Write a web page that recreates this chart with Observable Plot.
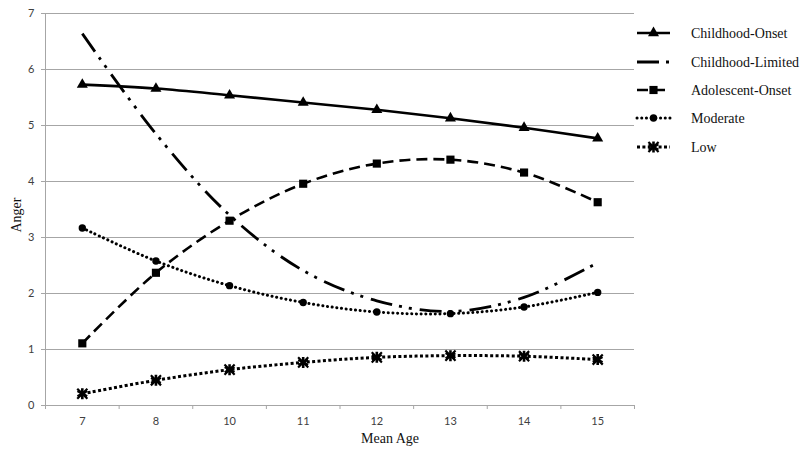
<!DOCTYPE html>
<html><head><meta charset="utf-8">
<script src="https://cdn.jsdelivr.net/npm/d3@7"></script>
<script src="https://cdn.jsdelivr.net/npm/@observablehq/plot@0.6"></script>
<style>
body{margin:0;background:#fff;}
#chart{position:relative;width:800px;height:451px;}
#chart svg{display:block;}
</style>
</head><body><div id="chart"></div>
<script>
const ages = ["7","8","10","11","12","13","14","15"];
const yTicks = [0,1,2,3,4,5,6,7];
const seriesNames = ["Childhood-Onset","Childhood-Limited","Adolescent-Onset","Moderate","Low"];
const childhoodOnset   = [5.73,5.66,5.54,5.41,5.28,5.13,4.96,4.77];
const childhoodLimited = [6.64,4.85,3.40,2.41,1.87,1.68,1.93,2.55];
const adolescentOnset  = [1.11,2.37,3.30,3.96,4.32,4.39,4.16,3.63];
const moderate         = [3.17,2.58,2.14,1.84,1.67,1.64,1.76,2.02];
const low              = [0.21,0.45,0.64,0.77,0.86,0.89,0.88,0.82];
const xTitle = "Mean Age";
const yTitle = "Anger";

const seriesVals = [childhoodOnset, childhoodLimited, adolescentOnset, moderate, low];
const styles = {
  "Childhood-Onset":   {dash:null, w:2.6, cap:"butt", symbol:"triangle", r:4.1},
  "Childhood-Limited": {dash:"22,7,3,7,3,8", w:2.8, cap:"butt", symbol:null},
  "Adolescent-Onset":  {dash:"11,6", w:2.6, cap:"butt", symbol:"square", r:4.6},
  "Moderate":          {dash:"0.1,4.6", w:3, cap:"round", symbol:"circle", r:3.7},
  "Low":               {dash:"3,2.4", w:3, cap:"butt", symbol:"asterisk", r:5.2}
};

const rows = [];
seriesNames.forEach((s,k) => ages.forEach((a,i) => rows.push({series:s, i, age:a, value:seriesVals[k][i]})));

const gray = "#a6a6a6";
const tickFont = "Lato, 'Open Sans', sans-serif";
const marks = [
  Plot.gridY(yTicks.slice(1), {stroke:gray, strokeOpacity:1, strokeWidth:1}),
  Plot.ruleY([0], {stroke:gray, strokeWidth:1}),
  Plot.ruleX([-0.5], {stroke:gray, strokeWidth:1}),
  Plot.axisY(yTicks, {tickSize:4, tickPadding:7, stroke:gray, fill:"#404040", fontSize:11, fontFamily:tickFont, tickFormat:d => String(d), label:null}),
  Plot.axisX(d3.range(0, ages.length), {tickSize:0, tickPadding:12, tickFormat:i => ages[i], fill:"#404040", fontSize:11, fontFamily:tickFont, label:null}),
  Plot.axisX(d3.range(-0.5, ages.length, 1), {tickSize:4, stroke:gray, tickFormat:() => "", label:null})
];
seriesNames.forEach(s => {
  const st = styles[s];
  const d = rows.filter(r => r.series === s);
  marks.push(Plot.line(d, {x:"i", y:"value", curve:"catmull-rom", stroke:"black", strokeWidth:st.w,
    strokeDasharray:st.dash || undefined, strokeLinecap:st.cap}));
});
seriesNames.forEach(s => {
  const st = styles[s];
  if (!st.symbol) return;
  const d = rows.filter(r => r.series === s);
  if (st.symbol === "asterisk") {
    marks.push(Plot.dot(d, {x:"i", y:"value", symbol:"asterisk", r:st.r, stroke:"black", strokeWidth:2.6, fill:"none"}));
    marks.push(Plot.dot(d, {x:"i", y:"value", symbol:"times", r:st.r*0.9, stroke:"black", strokeWidth:2.2, fill:"none"}));
  } else {
    marks.push(Plot.dot(d, {x:"i", y:"value", symbol:st.symbol, r:st.r, fill:"black", stroke:"none"}));
  }
});

const chart = Plot.plot({
  width:800, height:451,
  marginLeft:45, marginRight:166, marginTop:13, marginBottom:46,
  style:{background:"#fff", overflow:"visible"},
  x:{domain:[-0.5, ages.length-0.5], axis:null},
  y:{domain:[0,7], axis:null},
  marks
});
document.getElementById("chart").appendChild(chart);

const serif = "'Liberation Serif', 'Times New Roman', serif";
const svg = d3.select(chart);
svg.append("text").attr("x",390).attr("y",443).attr("text-anchor","middle")
  .attr("font-family",serif).attr("font-size",14).attr("fill","#111").text(xTitle);
svg.append("text").attr("transform","translate(21,215) rotate(-90)").attr("text-anchor","middle")
  .attr("font-family",serif).attr("font-size",14).attr("fill","#111").text(yTitle);

// legend
const symMap = {triangle:d3.symbolTriangle, square:d3.symbolSquare, circle:d3.symbolCircle, asterisk:d3.symbolAsterisk, times:d3.symbolTimes};
const legendY = [33, 62, 90, 118, 147];
const lg = svg.append("g");
seriesNames.forEach((s,k) => {
  const st = styles[s];
  const y = legendY[k];
  const g = lg.append("g").attr("transform", `translate(0,${y})`);
  g.append("line").attr("x1",637).attr("x2",670).attr("y1",0).attr("y2",0)
    .attr("stroke","black").attr("stroke-width",st.w)
    .attr("stroke-dasharray", s === "Childhood-Limited" ? "22,7,3,40" : (st.dash || null))
    .attr("stroke-linecap", st.cap);
  if (st.symbol) {
    const size = Math.PI*st.r*st.r;
    if (st.symbol === "asterisk") {
      g.append("path").attr("transform","translate(653.5,0)").attr("d", d3.symbol(symMap.asterisk, size)()).attr("stroke","black").attr("stroke-width",2.6).attr("fill","none");
      g.append("path").attr("transform","translate(653.5,0)").attr("d", d3.symbol(symMap.times, Math.PI*(st.r*0.9)**2)()).attr("stroke","black").attr("stroke-width",2.2).attr("fill","none");
    } else {
      g.append("path").attr("transform","translate(653.5,0)").attr("d", d3.symbol(symMap[st.symbol], size)()).attr("fill","black");
    }
  }
  g.append("text").attr("x",691).attr("y",0).attr("dy","0.35em").attr("text-anchor","start")
    .attr("font-family",serif).attr("font-size",14).attr("fill","#111").text(s);
});
</script>
</body></html>
